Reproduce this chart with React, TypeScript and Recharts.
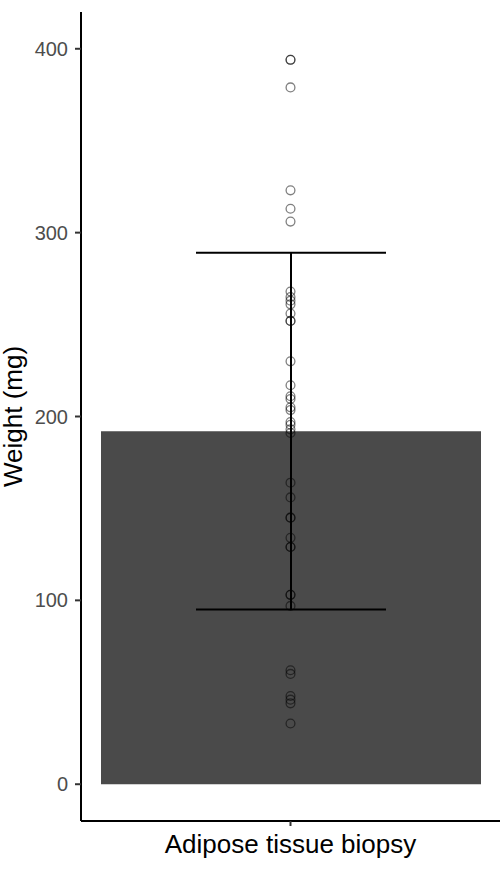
import { ComposedChart, Bar, Scatter, XAxis, YAxis, ErrorBar } from 'recharts';

// one group, mean +/- SD with the individual samples on top
const CATEGORIES = ['Adipose tissue biopsy'];
const MEAN_WEIGHT = [192];
const SD_WEIGHT = [97];
const SAMPLE_WEIGHTS = [
  394, 394, 379, 323, 313, 306, 268, 265, 263, 261, 256, 252, 252, 230, 217, 211, 209.5,
  205, 203.5, 197, 195.5, 193, 191, 164, 156, 145, 145, 134, 129, 129, 103, 103, 97, 62,
  60, 48, 46, 44, 33,
];
const Y_TICKS = [0, 100, 200, 300, 400];
const Y_DOMAIN = [-20, 420];

const FONT = '"Liberation Sans", Arial, Helvetica, sans-serif';

const barData = CATEGORIES.map((name, i) => ({
  name,
  mean: MEAN_WEIGHT[i],
  sd: SD_WEIGHT[i],
}));

const pointData = SAMPLE_WEIGHTS.map((weight) => ({ name: CATEGORIES[0], weight }));

function HollowDot(props: any) {
  const { cx, cy } = props;
  if (cx == null || cy == null) return null;
  return <circle cx={cx} cy={cy} r={4.4} fill="none" stroke="#000" strokeOpacity={0.5} strokeWidth={1.3} />;
}

export default function App() {
  return (
    <div style={{ position: 'absolute', left: 0, top: 0, width: 500, height: 872, background: '#fff' }}>
      <ComposedChart
        width={500}
        height={872}
        data={barData}
        margin={{ top: 12, right: 0, bottom: 0, left: 0 }}
        style={{ fontFamily: FONT }}
      >
        <XAxis
          dataKey="name"
          allowDuplicatedCategory={false}
          height={51}
          tick={{ fill: '#000', fontSize: 26 }}
          tickSize={5}
          tickMargin={9}
          axisLine={{ stroke: '#000', strokeWidth: 2 }}
          tickLine={{ stroke: '#333', strokeWidth: 2 }}
        />
        <YAxis
          type="number"
          domain={Y_DOMAIN}
          ticks={Y_TICKS}
          width={81}
          tick={{ fill: '#4d4d4d', fontSize: 20 }}
          tickSize={6}
          tickMargin={7}
          axisLine={{ stroke: '#000', strokeWidth: 2 }}
          tickLine={{ stroke: '#333', strokeWidth: 2 }}
          label={{
            value: 'Weight (mg)',
            angle: -90,
            position: 'insideLeft',
            offset: 13,
            style: { textAnchor: 'middle', fill: '#000', fontSize: 26 },
          }}
        />
        <Bar dataKey="mean" fill="#4a4a4a" barSize={380} isAnimationActive={false}>
          <ErrorBar dataKey="sd" width={95} stroke="#000" strokeWidth={2} direction="y" />
        </Bar>
        <Scatter data={pointData} dataKey="weight" shape={HollowDot} isAnimationActive={false} />
      </ComposedChart>
    </div>
  );
}
